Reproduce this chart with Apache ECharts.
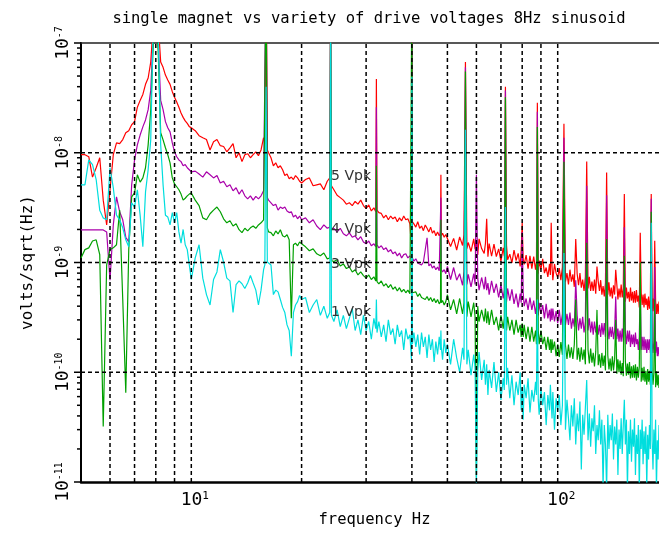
<!DOCTYPE html>
<html><head><meta charset="utf-8">
<script src="https://cdn.jsdelivr.net/npm/echarts@6/dist/echarts.min.js"></script>
<style>html,body{margin:0;padding:0;background:#fff}#c{width:659px;height:535px}</style>
</head><body><div id="c"></div>
<script>
// frequency grid, Hz
const freq = [
5,5.125,5.25,5.375,5.5,5.625,5.75,5.875,6,6.125,
6.25,6.375,6.5,6.625,6.75,6.875,7,7.125,7.25,7.375,
7.5,7.625,7.75,7.875,8,8.125,8.25,8.375,8.5,8.625,
8.75,8.875,9,9.125,9.25,9.375,9.5,9.625,9.75,9.875,10,
10.25,10.5,10.75,11,11.25,11.5,11.75,12,12.25,12.5,
12.75,13,13.25,13.5,13.75,14,14.25,14.5,14.75,15,
15.25,15.5,15.75,15.875,16,16.125,16.25,16.5,16.75,17,
17.25,17.5,17.75,18,18.25,18.5,18.75,19,19.25,19.5,19.75,20,
20.5,21,21.5,22,22.5,23,23.5,23.875,24,24.125,
24.5,25,25.5,26,26.5,27,27.5,28,28.5,29,
29.5,30,30.5,31,31.5,31.875,32,32.125,32.5,33,
33.5,34,34.5,35,35.5,36,36.5,37,37.5,38,
38.5,39,39.5,39.875,40,40.125,40.5,41,41.5,42,
42.5,43,43.5,44,44.5,45,45.5,46,46.5,47,
47.5,47.875,48,48.125,48.5,49,49.5,
50,51,52,53,54,55,55.5,56,56.5,57,
58,59,59.5,60,60.5,61,62,63,63.5,64,
64.5,65,66,67,68,69,70,71,71.5,72,
72.5,73,74,75,76,77,78,79,79.5,80,
80.5,81,82,83,84,85,86,87,87.5,88,
88.5,89,90,91,92,93,94,95,95.5,96,
96.5,97,98,99,100,
101,102,103,104,105,106,107,108,109,110,
111,112,113,114,115,116,117,118,119,120,
121,122,123,124,125,126,127,128,129,130,
131,132,133,134,135,136,137,138,139,140,
141,142,143,144,145,146,147,148,149,150,
151,152,153,154,155,156,157,158,159,160,
161,162,163,164,165,166,167,168,169,170,
171,172,173,174,175,176,177,178,179,180,
181,182,183,184,185,186,187,188,189,190
];
// amplitude spectral density, in units of 1e-9 V/sqrt(Hz)
const vpk5 = [
9.6,9.6,9.2,6.0,7.3,9.0,3.7,2.2,4.6,9.6,
12.3,12.1,13.2,15.2,15.9,18.0,19.2,26,30,34,
42,48,67,150,400,150,67,60,51,46,
42,36,32,29,26,23,21,19.5,18.5,17.3,16.9,
15.9,14.3,13.7,13.2,10.6,12.6,13.2,11.6,11.4,10.2,
11.1,12.1,9.0,10.0,8.3,9.6,9.8,9.0,9.6,10.2,
9.4,10.6,13.7,12.0,500,10.6,10.0,9.0,7.6,8.1,
7.3,7.6,7.0,6.2,6.4,5.8,6.0,5.7,6.2,5.9,5.5,5.3,
5.7,5.9,5.0,5.1,5.2,4.6,5.5,5.9,300,5.0,
4.6,4.1,3.9,3.7,3.4,3.5,3.3,3.6,3.4,3.7,
3.3,3.1,3.35,2.95,3.15,2.9,47,3.0,2.85,2.8,
2.55,2.7,2.45,2.65,2.5,2.6,2.35,2.55,2.4,2.65,
2.45,2.5,2.25,1.4,300,2.35,2.25,2.1,2.35,2.05,
2.15,1.95,2.2,2.05,1.9,2.1,1.85,1.95,1.75,1.9,
1.75,1.85,6.3,1.75,1.85,1.7,1.8,
1.85,1.40,1.66,1.30,1.71,1.43,1.8,67,1.34,1.52,
1.26,1.64,1.32,1.53,1.17,1.64,1.34,1.21,1.49,2.5,
1.13,1.49,1.14,1.47,1.13,1.33,1.03,1.36,1.14,40,
1.43,1.06,1.19,0.99,1.3,1.04,1.21,0.92,1.29,2.3,
1.06,0.96,1.17,0.88,1.15,0.88,1.13,0.86,1.01,28.5,
0.79,1.04,0.87,1.08,0.8,0.9,0.74,0.97,0.77,2.3,
0.91,0.69,0.97,0.8,0.73,
0.89,0.69,0.91,18.4,0.67,0.8,0.63,0.86,0.67,0.78,
0.6,1.64,0.79,0.62,0.8,0.59,0.7,0.55,0.74,8.3,
0.58,0.74,0.55,0.67,0.55,0.7,0.52,0.92,0.67,0.55,
0.69,0.51,0.61,0.49,0.65,6.6,0.51,0.66,0.49,0.59,
0.47,0.62,0.51,0.86,0.63,0.46,0.58,0.48,0.63,0.48,
0.58,4.2,0.44,0.59,0.47,0.54,0.44,0.59,0.45,0.54,
0.43,0.55,0.43,0.56,0.44,0.5,0.39,1.87,0.53,0.41,
0.51,0.39,0.52,0.41,0.47,0.37,0.49,0.38,0.46,4.2,
0.36,0.47,0.36,1.58,0.45,0.34,0.42,0.34,0.44,0.35
];
const vpk4 = [
1.98,1.98,1.98,1.98,1.98,1.98,1.98,1.9,0.69,2.2,
3.96,2.9,2.45,1.7,1.54,5.1,8.6,11.8,14.5,17.2,
19.9,24.7,37,120,300,100,30,24.7,19.2,16.9,
15.5,12.3,10.2,9.2,8.6,8.3,7.6,7.8,7.3,7.0,6.7,
6.8,6.4,6.0,6.7,6.3,5.9,6.2,5.3,5.5,4.9,
5.1,4.5,4.8,4.2,4.6,4.05,3.8,4.05,3.7,4.0,
3.8,4.05,4.5,4.4,500,3.9,3.7,3.5,3.3,3.4,
3.0,3.2,3.1,3.2,2.95,2.85,2.9,2.6,2.7,2.5,2.65,2.45,
2.55,2.3,2.45,2.15,1.99,2.2,2.05,2.1,300,1.99,
2.05,1.9,2.05,1.83,1.75,1.86,1.7,1.75,1.61,1.72,
1.54,1.48,1.57,1.42,1.48,1.39,26,1.45,1.36,1.42,
1.31,1.36,1.25,1.31,1.2,1.25,1.15,1.22,1.1,1.18,
1.2,1.1,1.15,1.08,300,1.1,1.03,1.08,0.99,1.03,
0.95,1.01,0.97,1.68,0.93,0.97,0.89,0.93,0.86,0.91,
0.84,0.87,3.9,0.86,0.82,0.86,0.79,
0.92,0.7,0.9,0.69,0.79,0.62,0.83,60,0.63,0.78,
0.6,0.79,0.63,6.3,0.72,0.56,0.73,0.57,0.74,0.56,
0.65,0.51,0.68,0.53,0.64,0.48,0.63,0.47,0.56,37,
0.44,0.58,0.45,0.57,0.42,0.52,0.39,0.52,0.43,1.9,
0.53,0.4,0.47,0.37,0.48,0.37,0.45,0.34,0.4,23.6,
0.33,0.43,0.34,0.41,0.31,0.42,0.31,0.37,0.29,0.38,
0.3,0.38,0.29,0.36,0.28,
0.37,0.27,0.34,13.7,0.27,0.34,0.27,0.35,0.25,0.31,
0.26,0.69,0.33,0.24,0.31,0.25,0.32,0.23,0.29,5.0,
0.24,0.31,0.23,0.29,0.22,0.29,0.23,0.29,0.22,0.27,
0.21,0.28,0.22,0.28,0.21,4.1,0.26,0.2,0.26,0.21,
0.26,0.2,0.24,0.49,0.2,0.25,0.19,0.24,0.19,0.25,
0.19,2.1,0.23,0.18,0.24,0.19,0.24,0.17,0.22,0.18,
0.22,0.17,0.23,0.18,0.2,0.16,0.21,0.63,0.16,0.21,
0.16,0.21,0.16,0.2,0.15,0.2,0.16,0.2,0.15,3.8,
0.19,0.15,0.19,0.91,0.15,0.19,0.14,0.17,0.14,0.18
];
const vpk3 = [
1.1,1.31,1.36,1.57,1.61,1.18,0.032,0.95,1.31,1.36,
1.45,3.0,0.46,0.065,1.31,3.96,4.3,6.3,5.4,5.9,
7.3,11.8,24.5,100,250,80,15.2,13.1,11.1,9.6,
8.1,5.9,5.2,4.9,4.6,4.2,3.7,3.85,4.05,4.2,4.3,
3.7,3.3,2.55,2.45,2.78,3.0,3.2,2.9,2.5,2.3,
2.4,2.15,2.25,1.99,1.87,2.05,1.94,2.07,2.15,2.05,
2.2,2.3,2.45,2.35,500,2.07,1.9,1.87,1.75,1.94,
1.82,1.99,1.75,1.71,1.79,1.61,0.31,1.45,1.5,1.42,1.54,1.48,
1.39,1.28,1.33,1.2,1.15,1.22,1.08,1.1,300,1.04,
1.02,1.06,0.93,0.97,0.88,0.91,0.82,0.86,0.77,0.82,
0.76,0.72,0.77,0.7,0.74,0.68,7.6,0.67,0.64,0.68,
0.61,0.64,0.59,0.63,0.57,0.6,0.55,0.59,0.54,0.57,
0.53,0.56,0.52,0.54,300,0.53,0.51,0.54,0.49,0.52,
0.48,0.5,0.46,0.49,0.45,0.48,0.44,0.47,0.43,0.46,
0.42,0.44,2.45,0.43,0.45,0.41,0.44,
0.51,0.37,0.46,0.34,0.47,0.34,0.43,55,0.32,0.44,
0.32,0.43,0.32,0.011,0.4,0.29,0.37,0.29,0.38,0.28,
0.36,0.27,0.37,0.27,0.32,0.24,0.33,0.25,0.31,32,
0.24,0.32,0.24,0.3,0.22,0.3,0.23,0.27,0.21,0.28,
0.21,0.27,0.2,0.26,0.19,0.26,0.19,0.24,0.18,17.2,
0.24,0.18,0.24,0.18,0.21,0.16,0.21,0.16,0.2,0.15,
0.2,0.16,0.19,0.14,0.18,
0.138,0.188,0.144,8.3,0.177,0.132,0.179,0.136,0.169,0.132,
0.179,0.46,0.13,0.167,0.125,0.169,0.13,0.161,0.118,1.51,
0.16,0.12,0.164,0.122,0.15,0.113,0.154,0.37,0.116,0.146,
0.11,0.15,0.114,0.142,0.104,1.64,0.143,0.106,0.133,0.102,
0.14,0.104,0.131,0.3,0.097,0.131,0.1,0.128,0.095,0.121,
0.092,1.15,0.125,0.093,0.12,0.095,0.124,0.088,0.113,0.089,
0.116,0.089,0.118,0.084,0.112,0.089,0.113,1.0,0.082,0.11,
0.084,0.112,0.082,0.103,0.077,0.107,0.082,0.103,0.077,2.9,
0.104,0.077,0.099,0.46,0.073,0.102,0.076,0.095,0.072,0.095
];
const vpk1 = [
5.1,5.1,8.6,7.8,5.7,3.0,2.55,2.45,7.3,4.8,
2.7,2.45,2.07,1.61,1.39,3.5,3.2,4.6,2.7,1.39,
4.4,7.0,13.1,150,300,120,11.8,5.1,2.7,2.6,
2.2,2.85,2.3,2.85,1.9,1.5,2.0,1.45,1.31,0.95,0.7,
1.1,1.45,0.72,0.51,0.41,0.7,0.82,1.31,1.01,0.72,
0.68,0.35,0.63,0.68,0.64,0.58,0.65,0.76,0.65,0.56,
0.41,0.56,0.86,0.95,40,1.01,1.01,0.95,0.51,0.56,
0.54,0.46,0.39,0.35,0.27,0.24,0.14,0.35,0.41,0.44,0.5,0.46,
0.48,0.35,0.41,0.46,0.33,0.4,0.31,0.35,300,0.33,
0.29,0.37,0.26,0.33,0.25,0.31,0.38,0.24,0.3,0.22,
0.33,0.24,0.29,0.2,0.31,0.25,0.46,0.23,0.29,0.21,
0.27,0.19,0.3,0.22,0.25,0.18,0.27,0.21,0.24,0.16,
0.25,0.2,0.22,0.13,49,0.18,0.23,0.17,0.22,0.145,
0.23,0.17,0.21,0.135,0.22,0.16,0.2,0.124,0.19,0.145,
0.21,0.16,0.24,0.17,0.13,0.2,0.15,
0.18,0.118,0.2,0.135,0.1,0.167,0.13,16.2,0.118,0.16,
0.094,0.145,0.11,0.0095,0.1,0.153,0.085,0.13,0.077,0.118,
0.062,0.105,0.072,0.124,0.066,0.1,0.056,0.088,0.069,3.2,
0.077,0.11,0.058,0.094,0.05,0.082,0.062,0.1,0.045,0.072,
0.037,0.077,0.058,0.088,0.043,0.069,0.054,0.082,0.062,0.46,
0.056,0.041,0.072,0.05,0.066,0.033,0.062,0.045,0.077,0.054,
0.038,0.066,0.03,0.058,0.045,
0.062,0.033,0.05,1.22,0.03,0.056,0.038,0.024,0.05,0.032,
0.058,0.022,0.042,0.029,0.054,0.013,0.041,0.027,0.048,0.085,
0.024,0.042,0.021,0.038,0.029,0.05,0.018,0.033,0.024,0.045,
0.022,0.037,0.0089,0.033,0.022,0.0085,0.041,0.02,0.033,0.024,
0.042,0.016,0.032,0.022,0.037,0.0116,0.03,0.02,0.038,0.018,
0.033,0.056,0.022,0.037,0.0085,0.029,0.018,0.037,0.0153,0.03,
0.021,0.038,0.0116,0.027,0.018,0.033,0.0085,0.03,0.02,0.037,
0.0145,0.029,0.018,0.032,0.0089,0.027,0.016,0.033,0.02,2.3,
0.024,0.013,0.03,0.018,0.037,0.0085,0.024,0.016,0.033,0.022
];
const unit = 1e-9;

const seriesNames = ['5 Vpk', '4 Vpk', '3 Vpk', '1 Vpk'];
const seriesValues = [vpk5, vpk4, vpk3, vpk1];
const seriesColors = ['#ff0000', '#aa00aa', '#00a000', '#00dede'];
const labelFreq = [24, 24, 24, 24];            // Hz, left edge of the annotation
const labelLevel = [6.08, 1.99, 0.953, 0.348]; // 1e-9 V/sqrt(Hz)

const titleText = 'single magnet vs variety of drive voltages 8Hz sinusoid';
const xName = 'frequency Hz';
const yName = 'volts/sqrt(Hz)';
const xMin = 5, xMax = 200, yMin = 1e-11, yMax = 1e-7;
const xGridLines = [6, 7, 8, 9, 10, 20, 30, 40, 50, 60, 70, 80, 90, 100];
const yGridLines = [1e-10, 1e-9, 1e-8];
const yDecades = [-11, -10, -9, -8, -7];
const yMinorMantissa = [2, 3, 4, 5, 6, 7, 8, 9];

const MONO = "'DejaVu Sans Mono', monospace";

const yTicks = [];
yDecades.forEach(function (d) {
  yTicks.push([xMin, Math.pow(10, d), 7]);
  if (d < -7) yMinorMantissa.forEach(function (m) { yTicks.push([xMin, m * Math.pow(10, d), 4]); });
});
const gridSegs = xGridLines.map(function (f) { return [f, yMin, f, yMax]; })
  .concat(yGridLines.map(function (v) { return [xMin, v, xMax, v]; }));

function powLabel(v) {
  const e = Math.log10(v), r = Math.round(e);
  if (Math.abs(e - r) > 1e-6) return '';
  return '{b|10}{s|' + r + '}';
}

const series = seriesValues.map(function (vals, i) {
  return {
    type: 'line', name: seriesNames[i],
    data: freq.map(function (f, k) { return [f, vals[k] * unit]; }),
    showSymbol: false, symbol: 'none', clip: true,
    lineStyle: { color: seriesColors[i], width: 1.2 },
    itemStyle: { color: seriesColors[i] },
    emphasis: { disabled: true },
    markPoint: {
      silent: true, symbol: 'circle', symbolSize: 1,
      itemStyle: { color: 'rgba(0,0,0,0)' },
      label: { show: true, position: 'right', distance: 0, formatter: seriesNames[i],
        color: '#333', fontSize: 14, fontFamily: "'DejaVu Sans', sans-serif" },
      data: [{ coord: [labelFreq[i], labelLevel[i] * unit] }]
    }
  };
});
series.push({
  type: 'custom', coordinateSystem: 'cartesian2d', silent: true, clip: false, z: 9,
  data: gridSegs,
  renderItem: function (params, api) {
    const a = api.coord([api.value(0), api.value(1)]);
    const b = api.coord([api.value(2), api.value(3)]);
    return { type: 'line', shape: { x1: a[0], y1: a[1], x2: b[0], y2: b[1] },
      style: { stroke: '#000', lineWidth: 1.5, lineDash: [4, 3] } };
  }
});
series.push({
  type: 'custom', coordinateSystem: 'cartesian2d', silent: true, clip: false, z: 10,
  data: yTicks,
  renderItem: function (params, api) {
    const p = api.coord([api.value(0), api.value(1)]);
    const len = api.value(2);
    return { type: 'line', shape: { x1: p[0] - len, y1: p[1], x2: p[0], y2: p[1] },
      style: { stroke: '#000', lineWidth: 1.5 } };
  }
});

const chart = echarts.init(document.getElementById('c'), null, { renderer: 'canvas' });
chart.setOption({
  animation: false,
  backgroundColor: '#fff',
  graphic: [{
    type: 'text', x: 369, y: 19, silent: true,
    style: { text: titleText, fill: '#000', font: '15.5px ' + MONO, textAlign: 'center', textVerticalAlign: 'middle' }
  }],
  grid: { left: 81, right: -9, top: 43, bottom: 53, containLabel: false, outerBoundsMode: 'none' },
  xAxis: [{
    type: 'log', logBase: 10, min: xMin, max: xMax,
    name: xName, nameLocation: 'middle', nameGap: 30, nameMoveOverlap: false,
    nameTextStyle: { fontFamily: MONO, fontSize: 15.5, color: '#000' },
    axisLine: { show: true, onZero: false, lineStyle: { color: '#000', width: 2.5 } },
    axisTick: { show: false }, splitLine: { show: false },
    axisLabel: {
      margin: 9, showMinLabel: false, showMaxLabel: false, formatter: powLabel,
      rich: {
        b: { fontFamily: MONO, fontSize: 18, lineHeight: 18, color: '#000', verticalAlign: 'bottom', padding: [0, 0, 0, 7] },
        s: { fontFamily: MONO, fontSize: 11, lineHeight: 11, color: '#000', verticalAlign: 'top', padding: [0, 0, 10, 0] }
      }
    }
  }, {
    type: 'log', logBase: 10, min: xMin, max: xMax, position: 'top',
    axisLine: { show: true, onZero: false, lineStyle: { color: '#222', width: 1.5 } },
    axisTick: { show: false }, axisLabel: { show: false }, splitLine: { show: false }
  }],
  yAxis: {
    type: 'log', logBase: 10, min: yMin, max: yMax,
    name: yName, nameLocation: 'middle', nameGap: 45, nameMoveOverlap: false,
    nameTextStyle: { fontFamily: MONO, fontSize: 16, color: '#000' },
    axisLine: { show: true, onZero: false, lineStyle: { color: '#000', width: 2 } },
    axisTick: { show: false }, splitLine: { show: false },
    axisLabel: {
      rotate: 90, margin: 9, formatter: powLabel,
      rich: {
        b: { fontFamily: MONO, fontSize: 18, lineHeight: 18, color: '#000', verticalAlign: 'bottom' },
        s: { fontFamily: MONO, fontSize: 10, lineHeight: 10, color: '#000', verticalAlign: 'top', padding: [0, 0, 20, 0] }
      }
    }
  },
  series: series
});
</script>
</body></html>
